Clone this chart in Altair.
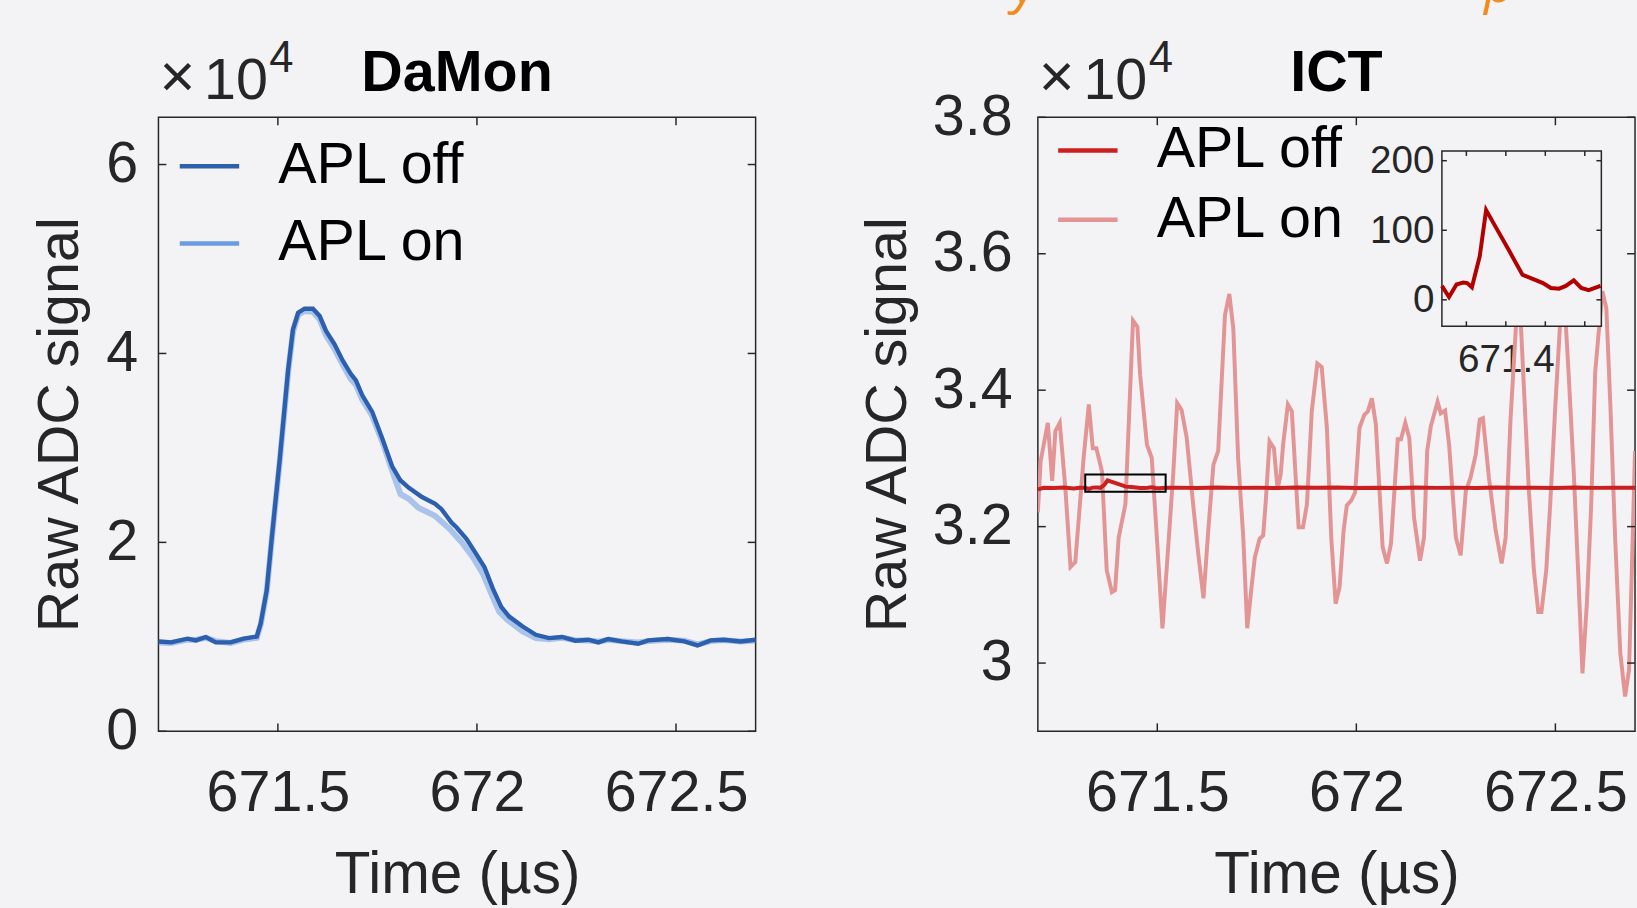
import altair as alt
import pandas as pd

# ---------------- data ----------------
SERIES = ["APL off", "APL on"]

DAMON_T_OFF = [671.200, 671.232, 671.273, 671.294, 671.319, 671.344, 671.381, 671.414, 671.447, 671.457,
               671.472, 671.484, 671.505, 671.526, 671.538, 671.551, 671.567, 671.588, 671.605, 671.621,
               671.642, 671.663, 671.683, 671.696, 671.712, 671.737, 671.762, 671.787, 671.808, 671.829,
               671.862, 671.895, 671.911, 671.936, 671.949, 671.974, 671.998, 672.019, 672.040, 672.061,
               672.081, 672.115, 672.148, 672.181, 672.214, 672.247, 672.280, 672.305, 672.330, 672.363,
               672.405, 672.430, 672.479, 672.521, 672.554, 672.587, 672.620, 672.662, 672.700]
DAMON_OFF = [9510, 9410, 9800, 9620, 9980, 9410, 9410, 9800, 10040, 11440,
             14940, 20180, 28920, 38360, 42560, 44310, 44730, 44730, 43960, 42390,
             40990, 39240, 37840, 37140, 35570, 33820, 31020, 28050, 26550, 25770,
             24800, 24090, 23510, 22110, 21580, 20360, 18790, 17380, 15110, 13180,
             12140, 11090, 10220, 9870, 9980, 9590, 9690, 9410, 9770, 9510,
             9270, 9620, 9770, 9510, 9090, 9620, 9690, 9510, 9690]

DAMON_T_ON = [671.200, 671.232, 671.273, 671.294, 671.319, 671.344, 671.381, 671.414, 671.447, 671.457,
              671.472, 671.484, 671.505, 671.526, 671.538, 671.551, 671.567, 671.588, 671.605, 671.621,
              671.642, 671.663, 671.683, 671.696, 671.712, 671.737, 671.762, 671.787, 671.808, 671.829,
              671.853, 671.895, 671.932, 671.965, 671.990, 672.015, 672.036, 672.056, 672.077, 672.115,
              672.148, 672.181, 672.214, 672.247, 672.280, 672.305, 672.330, 672.363, 672.405, 672.430,
              672.479, 672.521, 672.554, 672.587, 672.620, 672.662, 672.700]
DAMON_ON = [9400, 9350, 9700, 9680, 9900, 9550, 9350, 9700, 9900, 11300,
            14800, 20000, 28700, 38100, 42300, 44100, 44500, 44400, 43600, 41900,
            40500, 38800, 37300, 36700, 35100, 33400, 30700, 27600, 25100, 24600,
            23670, 22800, 21410, 19840, 18430, 16690, 14590, 12660, 11790, 10560,
            9870, 9750, 9900, 9650, 9600, 9500, 9680, 9550, 9400, 9550,
            9700, 9600, 9200, 9550, 9650, 9500, 9600]

ICT_T_OFF = [671.200, 671.215, 671.240, 671.265, 671.290, 671.305, 671.319, 671.328, 671.3375, 671.346,
             671.351, 671.357, 671.367, 671.375, 671.384, 671.403, 671.421, 671.434, 671.447, 671.457,
             671.4675, 671.476, 671.486, 671.4955, 671.505, 671.520, 671.550, 671.600, 671.650, 671.700,
             671.750, 671.800, 671.850, 671.900, 671.950, 672.000, 672.050, 672.100, 672.150, 672.200,
             672.250, 672.300, 672.350, 672.400, 672.450, 672.500, 672.550, 672.600, 672.650, 672.700]
ICT_OFF = [32545, 32570, 32565, 32575, 32560, 32570, 32570, 32554, 32572, 32575,
           32574, 32568, 32613, 32679, 32661, 32623, 32586, 32580, 32574, 32567,
           32566, 32570, 32578, 32567, 32564, 32570, 32572, 32566, 32574, 32568,
           32572, 32565, 32573, 32569, 32575, 32566, 32571, 32567, 32574, 32568,
           32572, 32566, 32573, 32569, 32571, 32567, 32574, 32568, 32572, 32569]

ICT_T_ON = [671.200, 671.207, 671.225, 671.236, 671.244, 671.255, 671.269, 671.282, 671.294, 671.315,
            671.328, 671.338, 671.347, 671.361, 671.373, 671.386, 671.394, 671.403, 671.420, 671.439,
            671.450, 671.457, 671.474, 671.486, 671.499, 671.513, 671.528, 671.540, 671.550, 671.561,
            671.574, 671.590, 671.603, 671.616, 671.628, 671.641, 671.653, 671.670, 671.681, 671.691,
            671.703, 671.716, 671.726, 671.736, 671.745, 671.757, 671.766, 671.772, 671.782, 671.793,
            671.802, 671.810, 671.816, 671.828, 671.838, 671.855, 671.866, 671.876, 671.888, 671.902,
            671.913, 671.926, 671.937, 671.948, 671.958, 671.968, 671.976, 671.987, 671.997, 672.008,
            672.020, 672.029, 672.039, 672.049, 672.066, 672.077, 672.087, 672.104, 672.112, 672.123,
            672.133, 672.145, 672.160, 672.170, 672.178, 672.187, 672.204, 672.212, 672.223, 672.233,
            672.250, 672.262, 672.275, 672.287, 672.300, 672.310, 672.318, 672.333, 672.350, 672.365,
            672.375, 672.387, 672.400, 672.408, 672.421, 672.433, 672.446, 672.457, 672.465, 672.477,
            672.487, 672.500, 672.519, 672.533, 672.546, 672.557, 672.568, 672.579, 672.590, 672.600,
            672.618, 672.628, 672.638, 672.650, 672.663, 672.675, 672.685, 672.692, 672.700]
ICT_ON = [32208, 32960, 33520, 32670, 33400, 33520, 32570, 31410, 31480, 33010,
          33790, 33150, 33150, 32810, 31360, 31040, 31070, 31840, 32330, 35020,
          34930, 34220, 33200, 33010, 31840, 30510, 31750, 32770, 33810, 33710,
          33300, 32330, 31600, 30950, 31940, 32910, 33110, 35100, 35410, 34900,
          33010, 31840, 30510, 31070, 31550, 31820, 31870, 32330, 33250, 33150,
          32550, 32770, 33200, 33790, 33690, 31990, 31990, 32330, 33690, 34390,
          34340, 33450, 31840, 30870, 31120, 31940, 32310, 32380, 32500, 33450,
          33640, 33690, 33880, 33500, 31700, 31460, 31750, 33280, 33280, 33520,
          33300, 32130, 31500, 31840, 33110, 33470, 33830, 33660, 33700, 33200,
          31840, 31580, 32520, 32720, 33060, 33570, 33590, 32720, 31940, 31460,
          31840, 33540, 34850, 35600, 34030, 32570, 31360, 30750, 30750, 31360,
          32330, 33790, 35700, 34270, 32810, 31360, 29850, 30870, 32330, 34270,
          35450, 35200, 33790, 31840, 30150, 29510, 29900, 31360, 33110]

X_DOMAIN = [671.2, 672.7]
X_TICKS = [671.5, 672.0, 672.5]
DAMON_Y_DOMAIN = [0, 65000]
DAMON_Y_TICKS = [0, 20000, 40000, 60000]
ICT_Y_DOMAIN = [29000, 38000]
ICT_Y_TICKS = [30000, 32000, 34000, 36000, 38000]
ZOOM_T = [671.319, 671.521]
ZOOM_RAW = [32512, 32764]
INSET_BASE = 32550
INSET_X_TICKS = [671.35, 671.4, 671.45, 671.5]
INSET_X_LABELS = [671.4]
INSET_Y_TICKS = [0, 100, 200]

# ---------------- style / layout ----------------
BG = "#f3f3f6"
INK = "#262626"
FONT = "Liberation Sans"
DAMON_COLORS = ["#2c5fae", "#6b9be0"]
ICT_COLORS = ["#cc1f1f", "#e39494"]
INSET_COLOR = "#b30000"
ORANGE = "#f28c1e"
W, H = 603, 620
TICK = 8
IN_L, IN_R, IN_T, IN_B = 408, 569, 34, 211   # inset box inside ICT panel (px)

one = alt.Data(values=[{"k": 0}])


def df(t, v, s):
    return pd.DataFrame({"t": t, "raw": v, "series": [s] * len(t)})


X_AXIS = alt.Axis(values=X_TICKS, labelExpr="toString(datum.value)", ticks=False, tickSize=0,
                  domain=False, grid=False, labelPadding=34, labelFontSize=58, labelFlush=False,
                  labelOverlap=False, title="Time (µs)", titleFontSize=59, titlePadding=24,
                  titleFontWeight="normal")


def y_axis(values, pad, tpad):
    return alt.Axis(values=values, labelExpr="toString(datum.value / 10000)", ticks=False, tickSize=0,
                    domain=False, grid=False, labelPadding=pad, labelFontSize=58, labelFlush=False,
                    labelOverlap=False, title="Raw ADC signal", titleFontSize=58, titlePadding=tpad,
                    titleFontWeight="normal")


def legend(lx, ly, rowpad):
    return alt.Legend(orient="none", legendX=lx, legendY=ly, title=None, symbolType="stroke",
                      symbolSize=3600, symbolStrokeWidth=4.5, symbolOpacity=1, labelFontSize=58,
                      labelFont=FONT, labelColor="black", labelOffset=37, rowPadding=rowpad,
                      padding=0, labelLimit=0)


def frame_ticks(xs, ys, xax, yax, xticks, yticks, h, w, x0=0, y0=0, size=TICK):
    xt = pd.DataFrame({"v": xticks})
    yt = pd.DataFrame({"v": yticks})
    r = dict(color=INK, strokeWidth=1.5)
    X = alt.X("v:Q", scale=xs, axis=xax)
    Y = alt.Y("v:Q", scale=ys, axis=yax)
    return [
        alt.Chart(xt).mark_rule(**r).encode(x=X, y=alt.value(h), y2=alt.value(h - size)),
        alt.Chart(xt).mark_rule(**r).encode(x=X, y=alt.value(y0), y2=alt.value(y0 + size)),
        alt.Chart(yt).mark_rule(**r).encode(y=Y, x=alt.value(x0), x2=alt.value(x0 + size)),
        alt.Chart(yt).mark_rule(**r).encode(y=Y, x=alt.value(w), x2=alt.value(w - size)),
    ]


def header(title):
    base = alt.Chart(one)
    return [
        base.mark_text(text="×", align="left", baseline="alphabetic", fontSize=62, font=FONT, color=INK)
            .encode(x=alt.value(1), y=alt.value(-20)),
        base.mark_text(text="10", align="left", baseline="alphabetic", fontSize=58, font=FONT, color=INK)
            .encode(x=alt.value(46), y=alt.value(-18)),
        base.mark_text(text="4", align="left", baseline="alphabetic", fontSize=44, font=FONT, color=INK)
            .encode(x=alt.value(112), y=alt.value(-46)),
        base.mark_text(text=title, align="center", baseline="alphabetic", fontSize=58, font=FONT,
                       fontWeight="bold", color="black")
            .encode(x=alt.value(W / 2), y=alt.value(-27)),
    ]


# ---------------- DaMon panel ----------------
xs_d = alt.Scale(domain=X_DOMAIN, nice=False, zero=False)
ys_d = alt.Scale(domain=DAMON_Y_DOMAIN, nice=False, zero=False)
ya_d = y_axis(DAMON_Y_TICKS, 21, 16.5)
col_d = alt.Color("series:N", scale=alt.Scale(domain=SERIES, range=DAMON_COLORS), legend=legend(19, 17, 16))

damon_on = alt.Chart(df(DAMON_T_ON, DAMON_ON, "APL on")).mark_line(strokeWidth=6, opacity=0.55, clip=True).encode(
    x=alt.X("t:Q", scale=xs_d, axis=X_AXIS), y=alt.Y("raw:Q", scale=ys_d, axis=ya_d), color=col_d)
damon_off = alt.Chart(df(DAMON_T_OFF, DAMON_OFF, "APL off")).mark_line(strokeWidth=4.4, clip=True).encode(
    x=alt.X("t:Q", scale=xs_d, axis=X_AXIS), y=alt.Y("raw:Q", scale=ys_d, axis=ya_d), color=col_d)

left = alt.layer(damon_on, damon_off, *frame_ticks(xs_d, ys_d, X_AXIS, ya_d, X_TICKS, DAMON_Y_TICKS, H, W),
                 *header("DaMon")).properties(width=W, height=H)

# ---------------- ICT panel ----------------
xs_i = alt.Scale(domain=X_DOMAIN, nice=False, zero=False)
ys_i = alt.Scale(domain=ICT_Y_DOMAIN, nice=False, zero=False)
ya_i = y_axis(ICT_Y_TICKS, 26, 15.5)
col_i = alt.Color("series:N", scale=alt.Scale(domain=SERIES, range=ICT_COLORS), legend=legend(18, 1, 8))

ict_on = alt.Chart(df(ICT_T_ON, ICT_ON, "APL on")).mark_line(strokeWidth=4, clip=True).encode(
    x=alt.X("t:Q", scale=xs_i, axis=X_AXIS), y=alt.Y("raw:Q", scale=ys_i, axis=ya_i), color=col_i)
ict_off = alt.Chart(df(ICT_T_OFF, ICT_OFF, "APL off")).mark_line(strokeWidth=4, clip=True).encode(
    x=alt.X("t:Q", scale=xs_i, axis=X_AXIS), y=alt.Y("raw:Q", scale=ys_i, axis=ya_i), color=col_i)
zoom_box = alt.Chart(pd.DataFrame({"t0": [ZOOM_T[0]], "t1": [ZOOM_T[1]], "r0": [ZOOM_RAW[0]], "r1": [ZOOM_RAW[1]]})) \
    .mark_rect(fillOpacity=0, stroke="black", strokeWidth=2).encode(
    x=alt.X("t0:Q", scale=xs_i, axis=X_AXIS), x2="t1", y=alt.Y("r0:Q", scale=ys_i, axis=ya_i), y2="r1")
orange = [
    alt.Chart(one).mark_text(text="y", align="center", baseline="alphabetic", fontSize=54, font="Open Sans",
                             fontStyle="italic", color=ORANGE).encode(x=alt.value(-13), y=alt.value(-116)),
    alt.Chart(one).mark_text(text="p", align="center", baseline="alphabetic", fontSize=54, font="Open Sans",
                             fontStyle="italic", color=ORANGE).encode(x=alt.value(466), y=alt.value(-116)),
]
ict_main = alt.layer(ict_on, ict_off, zoom_box,
                     *frame_ticks(xs_i, ys_i, X_AXIS, ya_i, X_TICKS, ICT_Y_TICKS, H, W),
                     *header("ICT"), *orange)

# inset
xs_in = alt.Scale(domain=ZOOM_T, range=[IN_L, IN_R], nice=False, zero=False)
ys_in = alt.Scale(domain=[ZOOM_RAW[0] - INSET_BASE, ZOOM_RAW[1] - INSET_BASE], range=[IN_B, IN_T],
                  nice=False, zero=False)
xa_in = alt.Axis(orient="bottom", offset=-(H - IN_B), values=INSET_X_LABELS, labelExpr="toString(datum.value)",
                 ticks=False, tickSize=0, domain=False, grid=False, labelFontSize=39, labelPadding=15,
                 labelFlush=False, labelOverlap=False, title=None)
ya_in = alt.Axis(orient="left", offset=-IN_L, values=INSET_Y_TICKS, ticks=False, tickSize=0, domain=False,
                 grid=False, labelFontSize=39, labelPadding=8, labelFlush=False, labelOverlap=False, title=None)
inset_bg = alt.Chart(one).mark_rect(fill=BG, stroke=INK, strokeWidth=1.5).encode(
    x=alt.value(IN_L), x2=alt.value(IN_R), y=alt.value(IN_T), y2=alt.value(IN_B))
inset_line = alt.Chart(df(ICT_T_OFF, ICT_OFF, "APL off")).transform_filter(
    (alt.datum.t >= ZOOM_T[0]) & (alt.datum.t <= ZOOM_T[1])
).transform_calculate(d=f"datum.raw - {INSET_BASE}").mark_line(color=INSET_COLOR, strokeWidth=4).encode(
    x=alt.X("t:Q", scale=xs_in, axis=xa_in), y=alt.Y("d:Q", scale=ys_in, axis=ya_in))
inset = alt.layer(inset_bg, inset_line,
                  *frame_ticks(xs_in, ys_in, xa_in, ya_in, INSET_X_TICKS, INSET_Y_TICKS,
                               IN_B, IN_R, x0=IN_L, y0=IN_T, size=5))

right = alt.layer(ict_main, inset).resolve_scale(x="independent", y="independent").properties(width=W, height=H)

chart = alt.HConcatChart(hconcat=[left, right], spacing=285, bounds="flush").resolve_scale(
    x="independent", y="independent", color="independent"
).properties(
    padding={"left": 31, "top": -46, "right": 0, "bottom": 0}
).configure(background=BG).configure_view(
    stroke=INK, strokeWidth=1.5, fill=BG
).configure_axis(
    labelFont=FONT, titleFont=FONT, labelColor=INK, titleColor=INK
)

chart.save("out.html", embed_options={"renderer": "svg", "actions": False})
